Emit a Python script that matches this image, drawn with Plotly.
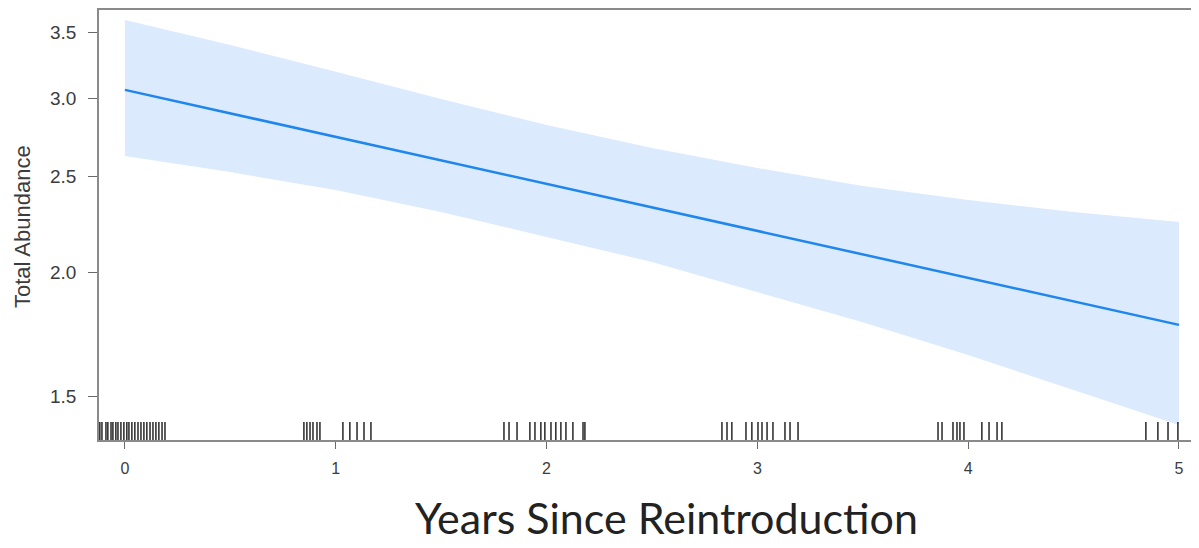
import plotly.graph_objects as go
import math

# ---- data ----
x_fit = [0, 1, 2, 3, 4, 5]
fit = [3.059, 2.741, 2.457, 2.202, 1.974, 1.770]

x_band = [0, 0.5, 1, 1.5, 2, 2.5, 3, 3.5, 4, 4.5, 5]
upper = [3.599, 3.396, 3.190, 2.995, 2.819, 2.672, 2.550, 2.446, 2.367, 2.302, 2.249]
lower = [2.623, 2.526, 2.423, 2.302, 2.172, 2.049, 1.911, 1.781, 1.650, 1.521, 1.402]

rug_x = [-0.119, -0.109, -0.090, -0.081, -0.066, -0.057, -0.043, -0.033, -0.019, -0.005,
         0.009, 0.019, 0.033, 0.047, 0.062, 0.076, 0.090, 0.104, 0.119, 0.133, 0.147,
         0.161, 0.176, 0.190,
         0.849, 0.863, 0.878, 0.892, 0.911, 0.925, 1.034, 1.067, 1.101, 1.134, 1.167,
         1.798, 1.822, 1.860, 1.921, 1.945, 1.973, 1.992, 2.021, 2.044, 2.068, 2.092,
         2.125, 2.173, 2.182,
         2.832, 2.856, 2.879, 2.946, 2.974, 3.003, 3.022, 3.046, 3.074, 3.131, 3.155, 3.193,
         3.857, 3.876, 3.928, 3.947, 3.961, 3.980, 4.065, 4.099, 4.137, 4.160,
         4.843, 4.900, 4.948, 4.995]

y_ticks = [1.5, 2.0, 2.5, 3.0, 3.5]
x_ticks = [0, 1, 2, 3, 4, 5]

x_title = "Years Since Reintroduction"
y_title = "Total Abundance"

# ---- layout constants (page has an 8px body margin) ----
W, H = 1191, 540
ML, MT, MB = 91, 2, 108
PW, PH = 1100, 430
y_lo, y_hi = math.log10(1.354), math.log10(3.684)
x_lo, x_hi = -0.123, 5.095
rug_y = 10 ** (y_lo + 7.5 / 989)

fig = go.Figure()

fig.add_trace(go.Scatter(
    x=x_band + x_band[::-1], y=upper + lower[::-1],
    fill="toself", fillcolor="#dbeafd", line=dict(width=0),
    mode="lines", hoverinfo="skip", showlegend=False))

fig.add_trace(go.Scatter(
    x=x_fit, y=fit, mode="lines",
    line=dict(color="#1e86ec", width=2.5), showlegend=False))

fig.add_trace(go.Scatter(
    x=rug_x, y=[rug_y] * len(rug_x), mode="markers",
    marker=dict(symbol="line-ns", size=15,
                line=dict(color="rgba(0,0,0,0.85)", width=1.5)),
    showlegend=False, hoverinfo="x"))

fig.update_layout(
    width=W, height=H,
    margin=dict(l=ML, r=0, t=MT, b=MB),
    paper_bgcolor="white", plot_bgcolor="white",
    font=dict(family="Liberation Sans, Arial", color="#3c3c3c"),
    xaxis=dict(range=[x_lo, x_hi], tickvals=x_ticks, ticktext=[str(v) for v in x_ticks],
               showgrid=False, zeroline=False, showline=True, linecolor="#8a8a8a",
               linewidth=1.5, mirror=True, ticks="outside", ticklen=7,
               tickcolor="#6a6a6a", tickfont=dict(size=16), ticklabelstandoff=6),
    yaxis=dict(type="log", range=[y_lo, y_hi], tickvals=y_ticks,
               ticktext=[f"{v:.1f}" for v in y_ticks],
               showgrid=False, zeroline=False, showline=True, linecolor="#8a8a8a",
               linewidth=1.5, ticks="outside", ticklen=9, tickcolor="#6a6a6a",
               tickfont=dict(size=19), ticklabelstandoff=8),
    annotations=[
        dict(text=x_title, xref="paper", yref="paper", x=(658 - ML) / PW,
             y=(432 - 509) / PH, xanchor="center", yanchor="middle", showarrow=False,
             font=dict(family="Lato, Open Sans", size=43, color="#222222")),
        dict(text=y_title, xref="paper", yref="paper", x=(14 - ML) / PW,
             y=(432 - 218) / PH, xanchor="center", yanchor="middle", showarrow=False,
             textangle=-90, font=dict(size=22, color="#3c3c3c")),
    ],
)

fig.write_html("out.html")
